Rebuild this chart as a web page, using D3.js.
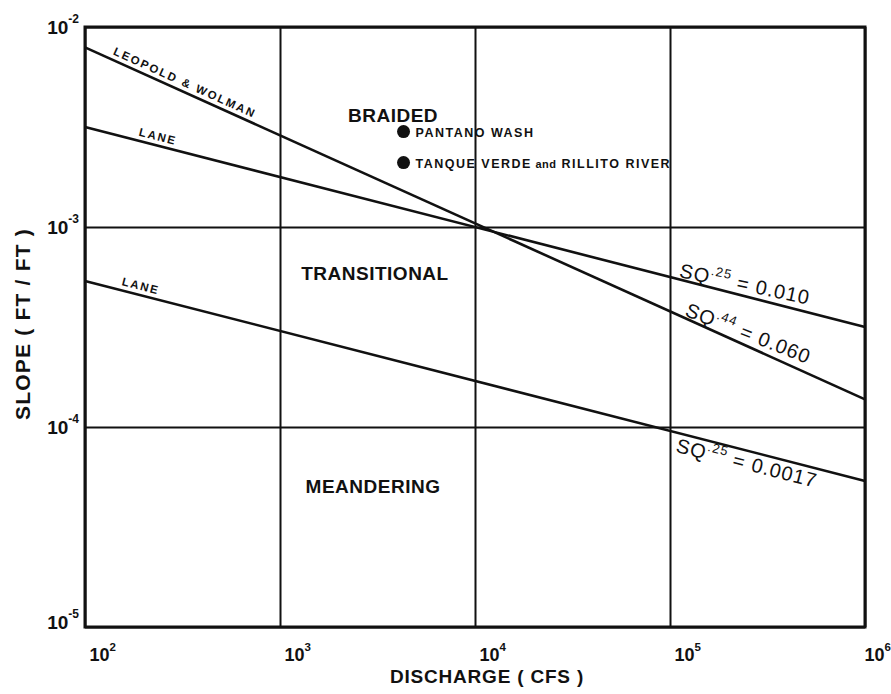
<!DOCTYPE html>
<html>
<head>
<meta charset="utf-8">
<script src="https://cdn.jsdelivr.net/npm/d3@7"></script>
<style>
  body { margin: 0; background: #fff; }
  svg text { font-family: "Liberation Sans", Arial, Helvetica, sans-serif; fill: #111; }
</style>
</head>
<body>
<svg id="chart" width="891" height="694"></svg>
<script>
// ---- data ----
const xTickExponents = [2, 3, 4, 5, 6];          // discharge, powers of ten
const yTickExponents = [-5, -4, -3, -2];         // slope, powers of ten
const xAxisTitle = "DISCHARGE ( CFS )";
const yAxisTitle = "SLOPE ( FT / FT )";

// threshold lines of the form S * Q^n = C
const lineNames     = ["LEOPOLD & WOLMAN", "LANE", "LANE"];
const lineConstants = [0.060, 0.010, 0.0017];
const lineExponents = [0.44, 0.25, 0.25];
const lineExpText   = [".44", ".25", ".25"];
const lineConstText = ["0.060", "0.010", "0.0017"];

// channel-pattern regions
const regionNames = ["BRAIDED", "TRANSITIONAL", "MEANDERING"];
const regionQ     = [3800, 3070, 3000];
const regionS     = [0.00335, 0.000543, 0.0000468];

// observed streams
const siteNames = ["PANTANO WASH", "TANQUE VERDE and RILLITO RIVER"];
const siteQ     = [4300, 4300];
const siteS     = [0.0030, 0.0021];

// ---- layout ----
const plot = { left: 85, right: 865, top: 27, bottom: 627 };
const ink = "#111";

const x = d3.scaleLog().domain([1e2, 1e6]).range([plot.left, plot.right]);
const y = d3.scaleLog().domain([1e-5, 1e-2]).range([plot.bottom, plot.top]);

const svg = d3.select("#chart");
svg.append("rect").attr("width", 891).attr("height", 694).attr("fill", "#fff");

// ---- grid + tick labels (via axes) ----
const gx = svg.append("g")
  .attr("transform", `translate(0,${plot.bottom})`)
  .call(d3.axisBottom(x)
    .tickValues(xTickExponents.map(e => Math.pow(10, e)))
    .tickSize(-(plot.bottom - plot.top))
    .tickFormat(() => "10"));
gx.attr("font-size", null).attr("font-family", null);
gx.select(".domain").remove();
gx.selectAll(".tick line").attr("stroke", ink).attr("stroke-width", 2);
gx.selectAll(".tick text")
  .attr("text-anchor", "start")
  .attr("x", (d, i, n) => i === n.length - 1 ? -1 : 4)
  .attr("y", 34).attr("dy", 0)
  .style("font-size", "18px").style("font-weight", "bold");
gx.selectAll(".tick text").append("tspan")
  .attr("dy", -10).style("font-size", "11.5px")
  .text(d => Math.round(Math.log10(d)));

const gy = svg.append("g")
  .attr("transform", `translate(${plot.left},0)`)
  .call(d3.axisLeft(y)
    .tickValues(yTickExponents.map(e => Math.pow(10, e)))
    .tickSize(-(plot.right - plot.left))
    .tickFormat(() => "10"));
gy.attr("font-size", null).attr("font-family", null);
gy.select(".domain").remove();
gy.selectAll(".tick line").attr("stroke", ink).attr("stroke-width", 2);
gy.selectAll(".tick text")
  .attr("text-anchor", "end").attr("x", -6)
  .attr("y", (d, i) => i === 0 ? 1 : 6).attr("dy", 0)
  .style("font-size", "19px").style("font-weight", "bold");
gy.selectAll(".tick text").append("tspan")
  .attr("dy", -11).style("font-size", "12px")
  .text(d => "-" + Math.abs(Math.round(Math.log10(d))));

// frame
svg.append("rect")
  .attr("x", plot.left).attr("y", plot.top)
  .attr("width", plot.right - plot.left).attr("height", plot.bottom - plot.top)
  .attr("fill", "none").attr("stroke", ink).attr("stroke-width", 3);

// ---- threshold lines ----
const qEnds = x.domain();
const slopeAt = (i, q) => lineConstants[i] * Math.pow(q, -lineExponents[i]);
const lineGen = d3.line().x(d => x(d[0])).y(d => y(d[1]));

lineConstants.forEach((c, i) => {
  svg.append("path")
    .datum(qEnds.map(q => [q, slopeAt(i, q)]))
    .attr("d", lineGen)
    .attr("fill", "none").attr("stroke", ink).attr("stroke-width", 2.6);
});

function lineAngle(i) {
  const [q0, q1] = qEnds;
  return Math.atan2(y(slopeAt(i, q1)) - y(slopeAt(i, q0)), x(q1) - x(q0)) * 180 / Math.PI;
}
function onLine(i, q, angle) {
  return `translate(${x(q)},${y(slopeAt(i, q))}) rotate(${angle == null ? lineAngle(i) : angle})`;
}

// author names along the left ends of the lines
const nameAnchorQ = [135, 185, 151];
lineNames.forEach((name, i) => {
  svg.append("text")
    .attr("transform", onLine(i, nameAnchorQ[i]))
    .attr("y", -5)
    .style("font-size", "11.5px").style("font-weight", "bold")
    .style("letter-spacing", i === 0 ? "2px" : "1.8px")
    .text(name);
});

// equations at the right ends
const eqAnchorQ = [117000, 110000, 112000];
const eqAngle   = [21.5, 12, null];
const eqOffset  = [-2, -2, 19];
lineConstants.forEach((c, i) => {
  const t = svg.append("text")
    .attr("transform", onLine(i, eqAnchorQ[i], eqAngle[i]))
    .attr("y", eqOffset[i])
    .style("font-size", "20px").style("letter-spacing", "1px");
  t.append("tspan").text("SQ");
  t.append("tspan").attr("dy", -9).style("font-size", "13px").text(lineExpText[i]);
  t.append("tspan").attr("dy", 9).text(" = " + lineConstText[i]);
});

// ---- region names ----
regionNames.forEach((name, i) => {
  svg.append("text")
    .attr("x", x(regionQ[i])).attr("y", y(regionS[i]))
    .attr("text-anchor", "middle")
    .style("font-size", "19px").style("font-weight", "bold")
    .style("letter-spacing", "0.5px")
    .text(name);
});

// ---- observed streams ----
siteNames.forEach((name, i) => {
  const cx = x(siteQ[i]), cy = y(siteS[i]);
  svg.append("circle").attr("cx", cx).attr("cy", cy).attr("r", 6.5).attr("fill", ink);
  const t = svg.append("text")
    .attr("x", cx + 12).attr("y", cy + 5)
    .style("font-size", "12.5px").style("font-weight", "bold")
    .style("letter-spacing", "1.5px");
  name.split(" ").forEach((w, k) => {
    const lower = w === w.toLowerCase();
    t.append("tspan")
      .style("font-size", lower ? "11px" : null)
      .style("letter-spacing", lower ? "0.5px" : null)
      .text((k ? " " : "") + w);
  });
});

// ---- axis titles ----
svg.append("text")
  .attr("x", 487).attr("y", 683)
  .attr("text-anchor", "middle")
  .style("font-size", "19px").style("font-weight", "bold").style("letter-spacing", "0.8px")
  .text(xAxisTitle);

svg.append("text")
  .attr("transform", "translate(30,324) rotate(-90)")
  .attr("text-anchor", "middle")
  .style("font-size", "21px").style("font-weight", "bold").style("letter-spacing", "1.2px")
  .text(yAxisTitle);
</script>
</body>
</html>
